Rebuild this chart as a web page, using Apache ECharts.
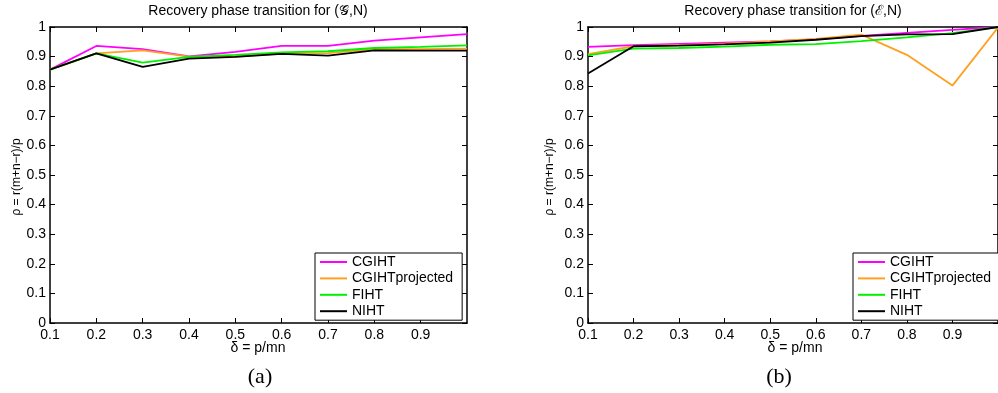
<!DOCTYPE html>
<html>
<head>
<meta charset="utf-8">
<script src="https://cdn.jsdelivr.net/npm/echarts@6/dist/echarts.min.js"></script>
<style>
html,body{margin:0;padding:0;background:#fff;}
#main{width:998px;height:393px;}
</style>
</head>
<body>
<div id="main"></div>
<script>
// ---- data ----
const delta = [0.1, 0.2, 0.3, 0.4, 0.5, 0.6, 0.7, 0.8, 0.9, 1.0];
const seriesNames = ['CGIHT', 'CGIHTprojected', 'FIHT', 'NIHT'];
const yTicks = [0, 0.1, 0.2, 0.3, 0.4, 0.5, 0.6, 0.7, 0.8, 0.9, 1];
const xTicks = [0.1, 0.2, 0.3, 0.4, 0.5, 0.6, 0.7, 0.8, 0.9];

// panel (a): (G,N)
const cgihtA = [0.856, 0.936, 0.925, 0.901, 0.916, 0.936, 0.936, 0.954, 0.965, 0.976];
const projA  = [0.856, 0.911, 0.921, 0.900, 0.900, 0.910, 0.912, 0.925, 0.925, 0.927];
const fihtA  = [0.856, 0.911, 0.880, 0.899, 0.906, 0.914, 0.918, 0.929, 0.933, 0.938];
const nihtA  = [0.856, 0.911, 0.865, 0.893, 0.899, 0.909, 0.903, 0.921, 0.920, 0.920];

// panel (b): (E,N)
const cgihtB = [0.933, 0.939, 0.943, 0.947, 0.951, 0.958, 0.970, 0.980, 0.990, 1.000];
const projB  = [0.908, 0.935, 0.939, 0.944, 0.951, 0.960, 0.974, 0.906, 0.802, 0.998];
const fihtB  = [0.904, 0.927, 0.929, 0.934, 0.940, 0.942, 0.952, 0.965, 0.979, 1.000];
const nihtB  = [0.843, 0.935, 0.937, 0.941, 0.947, 0.957, 0.969, 0.975, 0.976, 1.000];

const titleA = 'Recovery phase transition for (\u{1D4A2},N)';
const titleB = 'Recovery phase transition for (\u2130,N)';
const xName = '\u03B4 = p/mn';
const yName = '\u03C1 = r(m+n\u2212r)/p';

// ---- styling ----
const colors = ['#ff00ff', '#ffa020', '#00f000', '#000000'];
const FONT = 'Liberation Sans, Arial, Helvetica, sans-serif';

function pairs(vals) { return delta.map((d, i) => [d, vals[i]]); }

function fmtX(v) {
  const r = Math.round(v * 10) / 10;
  return xTicks.some(t => Math.abs(t - r) < 1e-6) ? r.toFixed(1) : '';
}
function fmtY(v) {
  const r = Math.round(v * 10) / 10;
  if (!yTicks.some(t => Math.abs(t - r) < 1e-6)) return '';
  if (r === 0) return '0';
  if (r === 1) return '1';
  return r.toFixed(1);
}

const axisLine = { show: true, onZero: false, lineStyle: { color: '#000', width: 1.5 } };
const tickIn = { show: true, inside: true, length: 5, lineStyle: { color: '#000', width: 1 } };

function xAxes(gridIndex) {
  return [
    { type: 'value', gridIndex, position: 'bottom', min: 0.1, max: 1.0, interval: 0.1,
      axisLine, axisTick: tickIn, splitLine: { show: false },
      axisLabel: { show: true, formatter: fmtX, color: '#000', fontFamily: FONT, fontSize: 14, margin: 5,
                   showMaxLabel: false } },
    { type: 'value', gridIndex, position: 'top', min: 0.1, max: 1.0, interval: 0.1,
      axisLine, axisTick: tickIn, splitLine: { show: false }, axisLabel: { show: false } }
  ];
}
function yAxes(gridIndex) {
  return [
    { type: 'value', gridIndex, position: 'left', min: 0, max: 1, interval: 0.1,
      axisLine, axisTick: tickIn, splitLine: { show: false },
      axisLabel: { show: true, formatter: fmtY, color: '#000', fontFamily: FONT, fontSize: 14, margin: 4 } },
    { type: 'value', gridIndex, position: 'right', min: 0, max: 1, interval: 0.1,
      axisLine, axisTick: tickIn, splitLine: { show: false }, axisLabel: { show: false } }
  ];
}

function makeSeries(valsList, xIdx, yIdx) {
  return valsList.map((vals, i) => ({
    name: seriesNames[i],
    type: 'line',
    xAxisIndex: xIdx,
    yAxisIndex: yIdx,
    data: pairs(vals),
    symbol: 'none',
    smooth: false,
    silent: true,
    animation: false,
    lineStyle: { color: colors[i], width: 1.8 },
    itemStyle: { color: colors[i] }
  }));
}

function makeLegend(left, top) {
  return {
    orient: 'vertical',
    left, top,
    data: seriesNames.map(n => ({ name: n, icon: 'rect' })),
    itemWidth: 27,
    itemHeight: 2,
    itemGap: 2.4,
    padding: [2, 9, 2, 5],
    backgroundColor: '#fff',
    borderColor: '#000',
    borderWidth: 1,
    borderRadius: 0,
    selectedMode: false,
    textStyle: { color: '#000', fontFamily: FONT, fontSize: 14, lineHeight: 13.5 },
    z: 10
  };
}

function txt(x, y, text, size, opts) {
  return Object.assign({
    type: 'text', x, y, z: 20,
    style: { text, fill: '#000', font: size + 'px ' + FONT, align: 'center', verticalAlign: 'middle' }
  }, opts || {});
}

const chart = echarts.init(document.getElementById('main'), null, { renderer: 'canvas' });
chart.setOption({
  animation: false,
  backgroundColor: '#fff',
  grid: [
    { left: 50, top: 27, width: 417, height: 296, containLabel: false },
    { left: 588, top: 27, width: 416, height: 296, containLabel: false }
  ],
  xAxis: [...xAxes(0), ...xAxes(1)],
  yAxis: [...yAxes(0), ...yAxes(1)],
  legend: [makeLegend(315, 253), makeLegend(853, 253)],
  series: [
    ...makeSeries([cgihtA, projA, fihtA, nihtA], 0, 0),
    ...makeSeries([cgihtB, projB, fihtB, nihtB], 2, 2)
  ],
  graphic: [
    txt(258, 11, titleA, 14),
    txt(793, 11, titleB, 14),
    txt(258, 348, xName, 14),
    txt(795, 348, xName, 14),
    txt(17, 177, yName, 12, { rotation: Math.PI / 2 }),
    txt(550, 177, yName, 12, { rotation: Math.PI / 2 }),
    { type: 'text', x: 260, y: 377, z: 20,
      style: { text: '(a)', fill: '#000', font: '22px Liberation Serif, Times New Roman, serif', align: 'center', verticalAlign: 'middle' } },
    { type: 'text', x: 779, y: 377, z: 20,
      style: { text: '(b)', fill: '#000', font: '22px Liberation Serif, Times New Roman, serif', align: 'center', verticalAlign: 'middle' } }
  ]
});
</script>
</body>
</html>
